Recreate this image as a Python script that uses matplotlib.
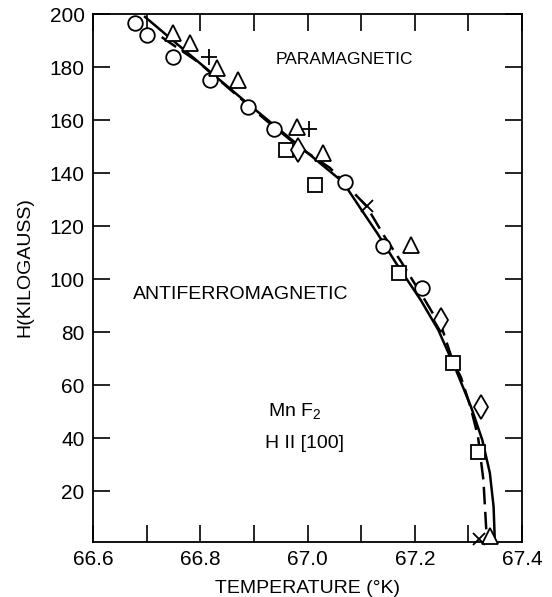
import matplotlib.pyplot as plt
from matplotlib.ticker import MultipleLocator

plt.rcParams['font.family'] = ['Liberation Sans', 'DejaVu Sans']

# values: temperature (K), field (kilogauss)
circ_T = [66.678, 66.700, 66.750, 66.818, 66.889, 66.937, 67.070, 67.141, 67.213]
circ_H = [196.6, 192.1, 183.8, 175.1, 164.9, 156.6, 136.6, 112.4, 96.6]

tri_T = [66.750, 66.780, 66.832, 66.870, 66.981, 67.029, 67.193, 67.340]
tri_H = [192.8, 189.1, 179.6, 175.1, 157.4, 147.5, 112.8, 3.0]

sq_T = [66.959, 67.014, 67.171, 67.272, 67.318]
sq_H = [148.7, 135.5, 102.3, 68.3, 34.7]

dia_T = [66.983, 67.248, 67.323]
dia_H = [148.7, 84.5, 51.7]

plus_T = [66.817, 67.002]
plus_H = [183.8, 156.6]

cross_T = [67.110, 67.320]
cross_H = [127.5, 1.8]

# phase boundary curves
solid_T = [66.697, 66.881, 67.066, 67.097, 67.130, 67.165, 67.211, 67.244,
           67.277, 67.305, 67.326, 67.340, 67.347, 67.349]
solid_H = [198.9, 167.5, 136.6, 127.2, 117.3, 106.0, 92.1, 80.7,
           65.6, 51.7, 39.2, 26.8, 14.0, 2.5]

dash_T = [66.728, 66.796, 66.857, 66.922, 66.987, 67.042, 67.110, 67.143,
          67.175, 67.220, 67.252, 67.272, 67.286, 67.304, 67.318, 67.328, 67.334]
dash_H = [191.3, 181.9, 171.3, 160.0, 149.4, 141.9, 127.5, 116.2,
          106.4, 91.7, 80.7, 68.3, 63.0, 51.7, 40.4, 24.1, 3.0]

fig = plt.figure(figsize=(5.52, 5.97), dpi=100)
ax = fig.add_axes([0.1685, 0.0921, 0.7772, 0.8844])

ax.plot(solid_T, solid_H, color='black', lw=1.8, zorder=2)
ax.plot(dash_T, dash_H, color='black', lw=1.8, dashes=(7, 3), zorder=2)

mk = dict(linestyle='none', color='black', mfc='white', mec='black',
          mew=1.3, clip_on=False, zorder=3)
ax.plot(circ_T, circ_H, marker='o', ms=10.5, **mk)
ax.plot(tri_T, tri_H, marker='^', ms=11.5, **mk)
ax.plot(sq_T, sq_H, marker='s', ms=9.5, **mk)
ax.plot(dia_T, dia_H, marker='d', ms=12.5, **mk)
ax.plot(plus_T, plus_H, marker='+', ms=12, **mk)
ax.plot(cross_T, cross_H, marker='x', ms=8, **mk)

ax.set_xlim(66.6, 67.4)
ax.set_ylim(0.75, 200)
ax.xaxis.set_major_locator(MultipleLocator(0.2))
ax.xaxis.set_minor_locator(MultipleLocator(0.1))
ax.set_yticks(range(20, 201, 20))
ax.xaxis.set_major_formatter(plt.FuncFormatter(lambda v, p: f"{v:.1f}"))

ax.tick_params(which='both', direction='in', length=12, width=1.2,
               top=True, right=True, labelsize=15, pad=6)
for s in ax.spines.values():
    s.set_linewidth(1.3)

ax.set_xlabel('TEMPERATURE (°K)', fontsize=14)
ax.xaxis.set_label_coords(0.5, -0.072)
ax.set_ylabel('H(KILOGAUSS)', fontsize=14)
ax.yaxis.set_label_coords(-0.14, 0.52)

ax.text(0.585, 0.913, 'PARAMAGNETIC', transform=ax.transAxes,
        ha='center', va='center', fontsize=12.5)
ax.text(0.345, 0.468, 'ANTIFERROMAGNETIC', transform=ax.transAxes,
        ha='center', va='center', fontsize=14)
ax.text(0.408, 0.246, r'Mn F$_\mathregular{2}$', transform=ax.transAxes,
        ha='left', va='center', fontsize=14)
ax.text(0.401, 0.1875, 'H II [100]', transform=ax.transAxes,
        ha='left', va='center', fontsize=14)

fig.savefig('out.png', dpi=100)
